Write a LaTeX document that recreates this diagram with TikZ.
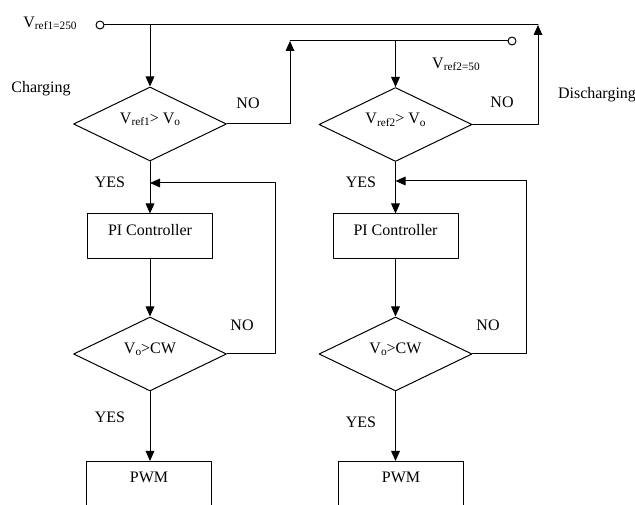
\documentclass[tikz,border=0pt]{standalone}
\usepackage{fontspec}
\setmainfont{Liberation Serif}
\usetikzlibrary{arrows.meta,shapes.geometric}
\newcommand{\lowsub}[1]{\raisebox{-0.3ex}{\fontsize{8.5}{9}\selectfont #1}}

\begin{document}
\begin{tikzpicture}[line cap=round,line join=round,>={Triangle[length=7.5pt,width=6.5pt]},x=0.75pt,y=-0.75pt,
	font=\fontsize{12}{14}\selectfont,line width=0.75pt,
	decision/.style={draw,diamond,aspect=2,inner sep=0pt,minimum width=114.75pt,minimum height=55.5pt,text height=8pt,text depth=9pt},
	block/.style={draw,rectangle,inner sep=0pt,minimum width=93.75pt,text height=16pt,text depth=17.75pt},
	port/.style={draw,circle,inner sep=0pt,minimum size=6pt,fill=white}]
		\clip(0,0) rectangle (635,505);
		% charging branch
		\node[port] (ref1) at (100,25) {};
		\node[decision] (chk1) at (150,124) {V\lowsub{ref1}> V\lowsub{o}};
		\node[block] (pi1) at (150,236.5) {PI Controller};
		\node[decision] (cw1) at (150,354) {V\lowsub{o}>CW};
		\node[block,anchor=north,text depth=45pt] (pwm1) at (149,461) {PWM};
		% discharging branch
		\node[port] (ref2) at (512,41) {};
		\node[decision] (chk2) at (395.5,124.5) {V\lowsub{ref2}> V\lowsub{o}};
		\node[block] (pi2) at (395.5,236.5) {PI Controller};
		\node[decision] (cw2) at (395.5,354) {V\lowsub{o}>CW};
		\node[block,anchor=north,text depth=45pt] (pwm2) at (401,461) {PWM};
		\coordinate (topR) at (538,25);
		\coordinate (midL) at (290,41);
		\coordinate (fb1) at (275,183);
		\coordinate (fb2) at (526,181);
		% lines
		\draw (ref1) -- (topR);
		\draw (midL) -- (ref2);
		\draw[->] (chk1.north |- ref1) -- (chk1.north);
		\draw[->] (chk2.north |- ref2) -- (chk2.north);
		\draw[->] (chk1.east) -| (midL);
		\draw[->] (chk2.east) -| (topR);
		\draw[->] (chk1.south) -- (pi1.north);
		\draw[->] (chk2.south) -- (pi2.north);
		\draw[->] (pi1.south) -- (cw1.north);
		\draw[->] (pi2.south) -- (cw2.north);
		\draw[->] (cw1.east) -| (fb1) -- (fb1 -| chk1.south);
		\draw[->] (cw2.east) -| (fb2) -- (fb2 -| chk2.south);
		\draw[->] (cw1.south) -- (cw1.south |- pwm1.north);
		\draw[->] (cw2.south) -- (cw2.south |- pwm2.north);
		% labels
		\node (lref1) at (50,23) {V\lowsub{ref1=250}};
		\node (lref2) at (456,64) {V\lowsub{ref2=50}};
		\node (lchg) at (41,89) {Charging};
		\node (ldis) at (597,95) {Discharging};
		\node (no1) at (248,103) {NO};
		\node (no2) at (502,102) {NO};
		\node (yes1) at (110,182) {YES};
		\node (yes2) at (361,182) {YES};
		\node (no3) at (242,325) {NO};
		\node (no4) at (488,325) {NO};
		\node (yes3) at (110,417) {YES};
		\node (yes4) at (361,422) {YES};
	\end{tikzpicture}
\end{document}
